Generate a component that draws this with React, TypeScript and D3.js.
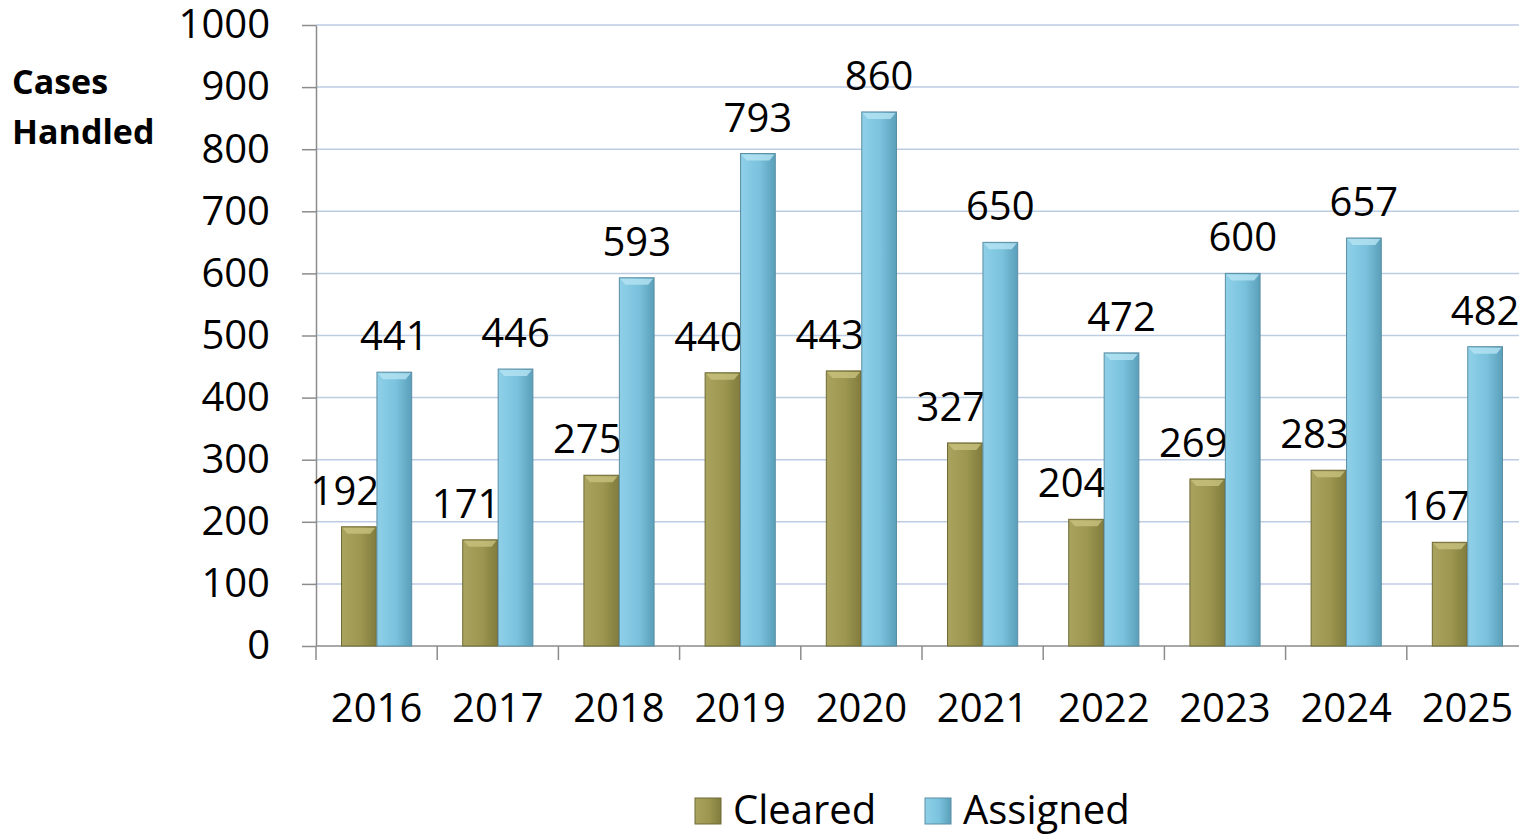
import * as d3 from 'd3';
import { useEffect, useRef } from 'react';

const years = ['2016', '2017', '2018', '2019', '2020', '2021', '2022', '2023', '2024', '2025'];
const cleared = [192, 171, 275, 440, 443, 327, 204, 269, 283, 167];
const assigned = [441, 446, 593, 793, 860, 650, 472, 600, 657, 482];
const seriesNames = ['Cleared', 'Assigned'];
const yTicks = [0, 100, 200, 300, 400, 500, 600, 700, 800, 900, 1000];

const FONT = '"Open Sans", "Noto Sans", sans-serif';

export default function App() {
  const ref = useRef<SVGSVGElement | null>(null);

  useEffect(() => {
    const width = 1519;
    const left = 316;
    const right = 1528;
    const top = 25;
    const bottom = 646;

    const svg = d3.select(ref.current);
    svg.selectAll('*').remove();

    /* ---------- GRADIENTS ---------- */
    const defs = svg.append('defs');
    const grads = [
      { id: 'g-cleared', stops: ['#a9a35f', '#9c9650', '#827c3e'] },
      { id: 'g-assigned', stops: ['#8fd0e8', '#7ac2dd', '#5b9fba'] },
    ];
    grads.forEach(g => {
      const lg = defs.append('linearGradient').attr('id', g.id).attr('x1', 0).attr('x2', 1).attr('y1', 0).attr('y2', 0);
      lg.append('stop').attr('offset', '0%').attr('stop-color', g.stops[0]);
      lg.append('stop').attr('offset', '55%').attr('stop-color', g.stops[1]);
      lg.append('stop').attr('offset', '100%').attr('stop-color', g.stops[2]);
    });
    const fills = ['url(#g-cleared)', 'url(#g-assigned)'];
    const strokes = ['#6f6a35', '#5a8ea3'];
    const bevel = ['#c9c27e', '#b5e3f3'];

    /* ---------- SCALES ---------- */
    const x = d3.scaleBand<string>().domain(years).range([left, right]).paddingInner(0).paddingOuter(0);
    const x1 = d3.scaleBand<string>().domain(seriesNames).range([0, x.bandwidth()]).paddingInner(0.02).paddingOuter(0.72);
    const y = d3.scaleLinear().domain([0, 1000]).range([bottom, top]);

    /* ---------- GRID ---------- */
    svg.append('g')
      .selectAll('line')
      .data(yTicks.filter(t => t > 0))
      .enter()
      .append('line')
      .attr('x1', left)
      .attr('x2', width)
      .attr('y1', d => y(d))
      .attr('y2', d => y(d))
      .attr('stroke', '#bccde3')
      .attr('stroke-width', 1.5);

    /* ---------- Y AXIS ---------- */
    const yAxis = svg.append('g')
      .attr('transform', `translate(${left},0)`)
      .call(
        d3.axisLeft(y)
          .tickValues(yTicks)
          .tickFormat(d3.format('d'))
          .tickSize(14)
          .tickPadding(32)
          .tickSizeOuter(0)
      );
    yAxis.select('.domain').attr('stroke', '#8c8c8c').attr('stroke-width', 1.5);
    yAxis.selectAll('.tick line').attr('stroke', '#8c8c8c').attr('stroke-width', 1.5);
    yAxis.selectAll('.tick text')
      .attr('fill', '#000')
      .style('font-family', FONT)
      .style('font-size', '40px');

    /* ---------- X AXIS ---------- */
    const xAxis = svg.append('g').attr('transform', `translate(0,${bottom})`);
    xAxis.append('line')
      .attr('x1', left).attr('x2', width)
      .attr('stroke', '#8c8c8c').attr('stroke-width', 1.5);
    xAxis.selectAll('.tk')
      .data(years)
      .enter()
      .append('line')
      .attr('x1', d => x(d)!)
      .attr('x2', d => x(d)!)
      .attr('y1', 0)
      .attr('y2', 14)
      .attr('stroke', '#8c8c8c')
      .attr('stroke-width', 1.5);
    xAxis.selectAll('.lbl')
      .data(years)
      .enter()
      .append('text')
      .attr('x', d => x(d)! + x.bandwidth() / 2)
      .attr('y', 76)
      .attr('text-anchor', 'middle')
      .style('font-family', FONT)
      .style('font-size', '40px')
      .text(d => d);

    /* ---------- BARS ---------- */
    const rows = years.map((yr, i) => ({ yr, vals: [cleared[i], assigned[i]] }));
    const groups = svg.append('g')
      .selectAll('g')
      .data(rows)
      .enter()
      .append('g')
      .attr('transform', d => `translate(${x(d.yr)},0)`);

    seriesNames.forEach((name, si) => {
      const bx = x1(name)!;
      const bw = x1.bandwidth();
      groups.append('rect')
        .attr('x', bx)
        .attr('y', d => y(d.vals[si]))
        .attr('width', bw)
        .attr('height', d => bottom - y(d.vals[si]))
        .attr('fill', fills[si])
        .attr('stroke', strokes[si])
        .attr('stroke-width', 1);
      // top bevel highlight
      groups.append('path')
        .attr('d', d => {
          const t = y(d.vals[si]);
          return `M${bx + 1},${t + 1} L${bx + bw - 1},${t + 1} L${bx + bw - 6},${t + 7} L${bx + 6},${t + 7} Z`;
        })
        .attr('fill', bevel[si])
        .attr('opacity', 0.8);
      // value labels
      groups.append('text')
        .attr('x', bx + bw / 2 + (si === 0 ? -14 : 0))
        .attr('y', d => y(d.vals[si]) - 22)
        .attr('text-anchor', 'middle')
        .style('font-family', FONT)
        .style('font-size', '40px')
        .text(d => d.vals[si]);
    });

    /* ---------- TITLE ---------- */
    const title = svg.append('text')
      .attr('x', 14)
      .style('font-family', FONT)
      .style('font-size', '34px')
      .style('font-weight', 700);
    title.append('tspan').attr('x', 12).attr('y', 94).text('Cases');
    title.append('tspan').attr('x', 12).attr('y', 144).text('Handled');

    /* ---------- LEGEND ---------- */
    const legendX = [695, 925];
    const legend = svg.append('g');
    seriesNames.forEach((name, i) => {
      legend.append('rect')
        .attr('x', legendX[i])
        .attr('y', 798)
        .attr('width', 26)
        .attr('height', 26)
        .attr('fill', fills[i])
        .attr('stroke', strokes[i]);
      legend.append('text')
        .attr('x', legendX[i] + 38)
        .attr('y', 824)
        .style('font-family', FONT)
        .style('font-size', '40px')
        .text(name);
    });
  }, []);

  return (
    <svg
      ref={ref}
      width={1519}
      height={836}
      style={{ position: 'absolute', left: 0, top: 0, background: '#fff' }}
    />
  );
}
